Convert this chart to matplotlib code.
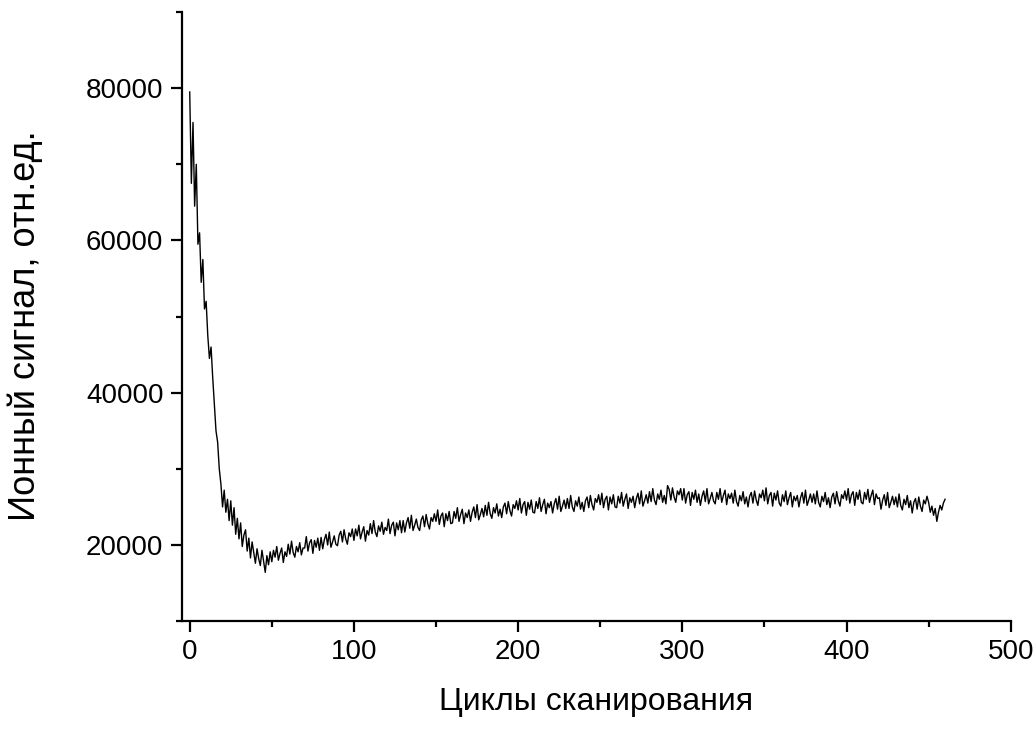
import matplotlib
matplotlib.use("Agg")
import matplotlib.pyplot as plt
from matplotlib.ticker import MultipleLocator

plt.rcParams['font.family'] = ['Liberation Sans', 'DejaVu Sans']

x_label = "Циклы сканирования"
y_label = "Ионный сигнал, отн.ед."
x_ticks = [0, 100, 200, 300, 400, 500]
y_ticks = [20000, 40000, 60000, 80000]

signal = [
    79500, 67500, 75500, 64500, 70000, 59500, 61000, 54500, 57500, 51000,
    52000, 47500, 44500, 46000, 42000, 38500, 35000, 33500, 30000, 28000,
    25000, 27200, 24300, 26000, 23200, 25800, 22600, 24900, 21400, 23500,
    20800, 22900, 19800, 21300, 22000, 19200, 20900, 18300, 20400, 19000,
    17600, 19500, 18200, 17300, 19300, 17800, 16400, 18600, 17400, 19100,
    17800, 19300, 18400, 19800, 18000, 18900, 19600, 17700, 19100, 18500,
    20100, 18800, 20500, 19000, 18400, 19800, 19100, 20300, 18700, 19600,
    19600, 21100, 19200, 20300, 20700, 18900, 20600, 19700, 20900, 19300,
    21000, 19500, 20700, 21400, 20000, 21700, 19700, 20400, 21200, 20100,
    19900, 21300, 21800, 20400, 22000, 20800, 20100, 21600, 21100, 22100,
    20600, 22100, 21200, 22600, 20800, 21700, 22400, 20500, 21900, 21300,
    22800, 21500, 23200, 21700, 21100, 22500, 21800, 23000, 21400, 22300,
    21900, 23400, 21500, 22600, 23000, 21200, 22900, 22000, 23200, 21600,
    23200, 21700, 22900, 23600, 22200, 23900, 21900, 22600, 23400, 22300,
    21900, 23300, 23800, 22400, 24000, 22800, 22100, 23600, 23100, 24100,
    23100, 24600, 22700, 23800, 24200, 22400, 24100, 23200, 24400, 22800,
    22900, 24400, 23500, 24900, 23100, 24000, 24700, 22800, 24200, 23600,
    24600, 23100, 24300, 25000, 23600, 25300, 23300, 24000, 24800, 23700,
    25200, 23900, 25600, 24100, 23500, 24900, 24200, 25400, 23800, 24700,
    23600, 25000, 25500, 24100, 25700, 24500, 23800, 25300, 24800, 25800,
    24600, 26100, 24200, 25300, 25700, 23900, 25600, 24700, 25900, 24300,
    24200, 25700, 24800, 26200, 24400, 25300, 26000, 24100, 25500, 24900,
    25700, 24200, 25400, 26100, 24700, 26400, 24400, 25100, 25900, 24800,
    26100, 24800, 26500, 25000, 24400, 25800, 25100, 26300, 24700, 25600,
    24400, 25800, 26300, 24900, 26500, 25300, 24600, 26100, 25600, 26600,
    25300, 26800, 24900, 26000, 26400, 24600, 26300, 25400, 26600, 25000,
    24900, 26400, 25500, 26900, 25100, 26000, 26700, 24800, 26200, 25600,
    26400, 24900, 26100, 26800, 25400, 27100, 25100, 25800, 26600, 25500,
    27000, 25700, 27400, 25900, 25300, 26700, 26000, 27200, 25600, 26500,
    25400, 27800, 27300, 25900, 27500, 26300, 25600, 27100, 26600, 27400,
    25900, 27400, 25500, 26600, 27000, 25200, 26900, 26000, 27200, 25600,
    26700, 25200, 26400, 27100, 25700, 27400, 25400, 26100, 26900, 25800,
    25400, 26900, 26000, 27400, 25600, 26500, 27200, 25300, 26700, 26100,
    26800, 25500, 27200, 25700, 25100, 26500, 25800, 27000, 25400, 26300,
    25000, 26400, 26900, 25500, 27100, 25900, 25200, 26700, 26200, 27200,
    25800, 27500, 25400, 26500, 26900, 25100, 26800, 25900, 27100, 25500,
    25100, 26600, 25700, 27100, 25300, 26200, 26900, 25000, 26400, 25800,
    26500, 25000, 26200, 26900, 25500, 27200, 25200, 25900, 26700, 25600,
    26700, 25400, 27100, 25600, 25000, 26400, 25700, 26900, 25300, 26200,
    24900, 26300, 26800, 25400, 27000, 25800, 25100, 26600, 26100, 27100,
    25900, 27400, 25500, 26600, 27000, 25200, 26900, 26000, 27200, 25600,
    25400, 26900, 26000, 27300, 25600, 26500, 27200, 25300, 26700, 26100,
    26200, 24700, 25900, 26600, 25200, 26900, 24900, 25600, 26400, 25300,
    26300, 25000, 26700, 25200, 24600, 26000, 25300, 26500, 24900, 25800,
    24200, 25600, 26100, 24700, 26300, 25100, 24400, 25900, 25400, 26400,
    25600, 24300, 25100, 23900, 24800, 23100, 24300, 25200, 24600, 25500,
    26000,
]
cycles = list(range(len(signal)))

fig = plt.figure(figsize=(10.36, 7.29), dpi=100)
ax = fig.add_axes([0.1752, 0.148, 0.8004, 0.8355])
ax.plot(cycles, signal, color='black', linewidth=1.0)

ax.set_xlim(-5, 500)
ax.set_ylim(10000, 90000)
ax.set_xticks(x_ticks)
ax.set_yticks(y_ticks)
ax.xaxis.set_minor_locator(MultipleLocator(50))
ax.yaxis.set_minor_locator(MultipleLocator(10000))
ax.spines['top'].set_visible(False)
ax.spines['right'].set_visible(False)
for s in ('left', 'bottom'):
    ax.spines[s].set_linewidth(1.6)
ax.tick_params(which='major', direction='out', length=8, width=1.6,
               labelsize=20, pad=5, colors='black')
ax.tick_params(which='minor', direction='out', length=4.5, width=1.6)
ax.set_xlabel(x_label, fontsize=23, labelpad=16)
ax.set_ylabel(y_label, fontsize=26)
ax.yaxis.set_label_coords(-0.167, 0.485)

fig.savefig('out.png', dpi=100)
